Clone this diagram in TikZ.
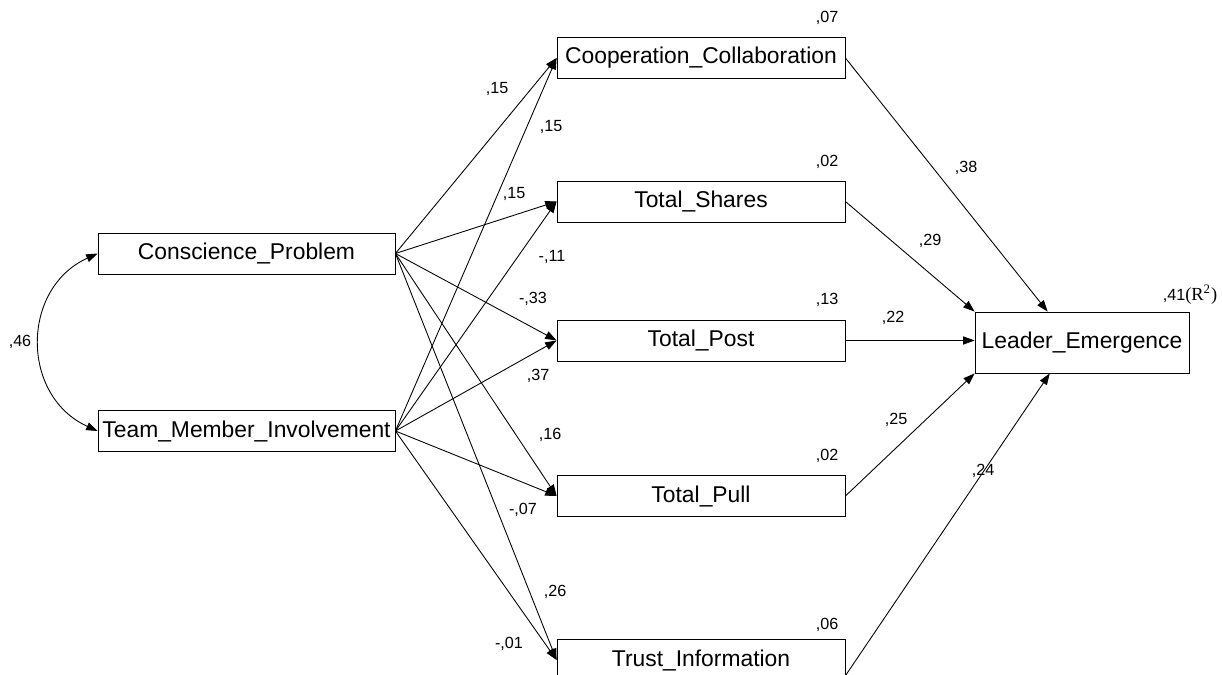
\documentclass[tikz,border=0pt]{standalone}
\usepackage{fontspec}
\setmainfont{Liberation Sans}
\newfontfamily\serfont{Liberation Serif}
\usetikzlibrary{arrows.meta, calc, positioning}

\begin{document}
\begin{tikzpicture}[x=0.02cm, y=-0.02cm, line width=0.5pt, >={Triangle[length=6.5pt, width=4.6pt]}]
		\tikzstyle{var}=[rectangle, draw=black, inner sep=0pt, minimum height=0.82cm, font=\fontsize{13}{15}\selectfont]
		\tikzstyle{coef}=[inner sep=0pt, font=\fontsize{9.2}{11}\selectfont]
		\clip (0,0) rectangle (1222,675);
		%%
		\node (cp) at (246.5, 253.5) [var, minimum width=5.94cm] {Conscience\_Problem};
		\node (tmi) at (246.5, 431) [var, minimum width=5.94cm] {Team\_Member\_Involvement};
		
		\node (coop) at (701, 58) [var, minimum width=5.76cm] {Cooperation\_Collaboration};
		\node (shares) at (701, 201.5) [var, minimum width=5.76cm] {Total\_Shares};
		\node (post) at (701, 340.5) [var, minimum width=5.76cm] {Total\_Post};
		\node (pull) at (701, 496) [var, minimum width=5.76cm] {Total\_Pull};
		\node (trust) at (701, 660) [var, minimum width=5.76cm] {Trust\_Information};
		
		\node (lead) at (1082, 342.5) [var, minimum width=4.28cm, minimum height=1.22cm] {Leader\_Emergence};
		
		\draw [->] (cp.east) -- (coop.west);
		\draw [->] (cp.east) -- (shares.west);
		\draw [->] (cp.east) -- (post.west);
		\draw [->] (cp.east) -- (pull.west);
		\draw [->] (cp.east) -- (trust.west);
		\draw [->] (tmi.east) -- (coop.west);
		\draw [->] (tmi.east) -- (shares.west);
		\draw [->] (tmi.east) -- (post.west);
		\draw [->] (tmi.east) -- (pull.west);
		\draw [->] (tmi.east) -- (trust.west);
		
		\draw [->] (coop.east) -- ($(lead.north west)!0.34!(lead.north east)$);
		\draw [->] (shares.east) -- (lead.north west);
		\draw [->] (post.east) -- (post.east -| lead.west);
		\draw [->] (pull.east) -- (lead.south west);
		\draw [->] ($(trust.east)!0.75!(trust.south east)$) -- ($(lead.south west)!0.35!(lead.south east)$);
		
		\draw [<->] (cp.west) .. controls ($(cp.west)+(-77,35)$) and ($(tmi.west)+(-77,-35)$) .. (tmi.west);
		
		\node (l46) at (20, 342) [coef] {,46};
		
		\node (lcoop) at (827, 18) [coef] {,07};
		\node (lshares) at (827, 162) [coef] {,02};
		\node (lpost) at (827, 300) [coef] {,13};
		\node (lpull) at (827, 456) [coef] {,02};
		\node (ltrust) at (827, 625) [coef] {,06};
		\node (llead) at (1190, 295) [coef] {,41{\serfont\fontsize{10.5}{12}\selectfont(R\textsuperscript{2})}};
		
		\node (l15a) at (497, 89) [coef] {,15};
		\node (l15b) at (551, 127) [coef] {,15};
		\node (l15c) at (514, 194) [coef] {,15};
		\node (l11) at (552, 257) [coef] {-,11};
		\node (l33) at (533, 299) [coef] {-,33};
		\node (l37) at (538, 376) [coef] {,37};
		\node (l16) at (550, 435) [coef] {,16};
		\node (l07) at (523, 510) [coef] {-,07};
		\node (l26) at (555, 592) [coef] {,26};
		\node (l01) at (509, 644) [coef] {-,01};
		
		\node (l38) at (966, 168) [coef] {,38};
		\node (l29) at (930, 241) [coef] {,29};
		\node (l22) at (893, 318) [coef] {,22};
		\node (l25) at (896, 420) [coef] {,25};
		\node (l24) at (983, 471) [coef] {,24};
\end{tikzpicture}
\end{document}
